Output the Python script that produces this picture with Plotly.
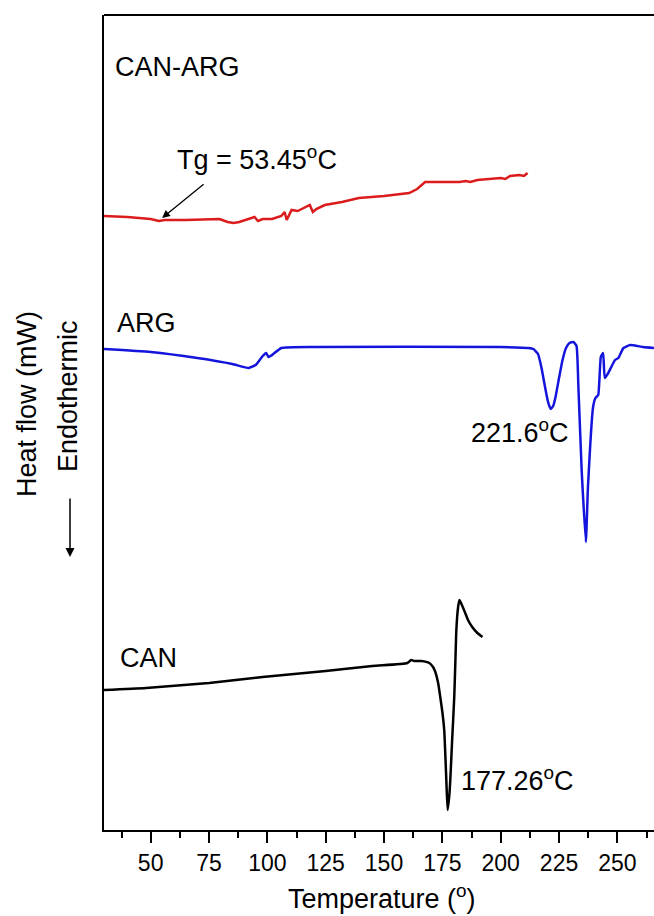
import plotly.graph_objects as go

# ---- data (heat flow in arbitrary units, offset curves) ----
can_arg_T = [30, 40, 50, 53.5, 56, 65, 79.5, 83, 85.5, 88, 94.5, 96, 98, 102, 106, 107.4, 108.3,
             110.4, 113, 116, 118.2, 119.5, 121, 124.6, 132, 139.2, 150, 160.8, 164.2, 167.6,
             175, 182.3, 185, 187, 190, 196.5, 200, 202, 204, 208, 210, 211.5]
can_arg_hf = [614, 613, 611, 609, 610, 610, 611, 608, 607, 608, 613, 609, 611, 611, 614, 618, 610,
              620, 619, 622, 625, 618, 621, 625, 628, 632, 634, 637, 641, 648,
              648, 648, 649, 648, 650, 651, 652, 651, 654, 655, 654, 657]

arg_T = [30, 50, 70, 85, 92, 95, 98, 99.5, 100.5, 102, 106, 120, 200, 212, 214, 216, 217.5, 219,
         220.3, 221.4, 222.5, 223.5, 225, 226.5, 228, 229.5, 231.2, 232.5, 233.3, 234.7, 236.5,
         237.4, 239.6, 240.6, 241.8, 242.9, 243.9, 244.6, 246.1, 249, 250.4, 252.6, 255.5, 261,
         265.7]
arg_hf = [481, 478, 472, 466, 462, 465, 474, 477, 473, 475, 482, 483, 483, 482, 481, 476, 462, 443,
          428, 421, 424, 433, 452, 470, 482, 487, 488, 484, 443, 360, 288,
          343, 423, 432, 435, 473, 477, 452, 457, 470, 472, 482, 485, 483,
          482]

can_T = [30, 48, 75, 98, 125, 145, 160, 161.6, 163, 166, 169.4, 171, 172, 173.2, 174.1, 175, 175.8,
         176.7, 177.26, 178, 178.4, 179.2, 180.1, 180.6, 181, 181.7, 182.3, 183, 184.8, 186, 187.8,
         190, 192.2]
can_hf = [140, 142, 147, 153, 159, 164, 167, 170, 169, 169, 167, 163, 158, 147, 133, 118, 100,
          50, 20, 35, 50, 90, 133, 170, 200, 222, 230, 227, 217, 210, 203,
          197, 193]

x_ticks = [50, 75, 100, 125, 150, 175, 200, 225, 250]
x_range = [30, 265.7]
y_range = [0, 815]

FONT = "Liberation Sans, Arial, sans-serif"

fig = go.Figure()
fig.add_trace(go.Scatter(x=can_arg_T, y=can_arg_hf, mode="lines", name="CAN-ARG",
                         line=dict(color="#dc1c1c", width=2.5)))
fig.add_trace(go.Scatter(x=arg_T, y=arg_hf, mode="lines", name="ARG",
                         line=dict(color="#1414dc", width=2.5, shape="spline", smoothing=0.4)))
fig.add_trace(go.Scatter(x=can_T, y=can_hf, mode="lines", name="CAN",
                         line=dict(color="black", width=2.5, shape="spline", smoothing=0.5)))

ann = []
def txt(x, y, s, xref="x", yref="y", angle=0, size=27):
    ann.append(dict(x=x, y=y, xref=xref, yref=yref, text=s, showarrow=False,
                    textangle=angle, font=dict(family=FONT, size=size, color="black"),
                    xanchor="center", yanchor="middle"))

txt(61.3, 763, "CAN-ARG")
txt(95.6, 672, "Tg = 53.45<sup>o</sup>C")
txt(48, 507, "ARG")
txt(208.3, 399, "221.6<sup>o</sup>C")
txt(48.9, 172, "CAN")
txt(207, 51, "177.26<sup>o</sup>C")
txt(0.505, -0.082, "Temperature (<sup>o</sup>)", xref="paper", yref="paper")
txt(-0.14, 0.5227, "Heat flow (mW)", xref="paper", yref="paper", angle=-90)
txt(-0.0655, 0.5325, "Endothermic", xref="paper", yref="paper", angle=-90)

# Tg arrow
ann.append(dict(x=54.9, y=612, xref="x", yref="y", text="", showarrow=True,
                ax=43, ay=-35, arrowhead=2, arrowsize=1.2, arrowwidth=1.3, arrowcolor="black"))
# Endothermic arrow
ann.append(dict(x=-0.0618, y=0.335, xref="paper", yref="paper", text="", showarrow=True,
                ax=0, ay=-60, arrowhead=2, arrowsize=1.2, arrowwidth=1.5, arrowcolor="black"))

fig.update_layout(
    width=654, height=916,
    margin=dict(l=104, r=0, t=15, b=86),
    paper_bgcolor="white", plot_bgcolor="white",
    showlegend=False,
    annotations=ann,
    shapes=[dict(type="line", xref="paper", yref="paper", x0=0, x1=1, y0=1, y1=1,
                 line=dict(color="black", width=2))],
    font=dict(family=FONT, color="black"),
)
fig.update_xaxes(range=x_range, tickvals=x_ticks, ticks="outside", ticklen=11, tickwidth=2,
                 tickcolor="black", showline=True, linecolor="black", linewidth=2,
                 showgrid=False, zeroline=False, tickfont=dict(family=FONT, size=23),
                 minor=dict(dtick=12.5, tick0=0, ticks="outside", ticklen=6, tickwidth=2,
                            tickcolor="black", showgrid=False))
fig.update_yaxes(range=y_range, showticklabels=False, ticks="", showline=True,
                 linecolor="black", linewidth=2, showgrid=False, zeroline=False)

fig.write_html("out.html", config={"displayModeBar": False},
               post_script="document.body.style.margin='0px';document.body.style.overflow='hidden';")
